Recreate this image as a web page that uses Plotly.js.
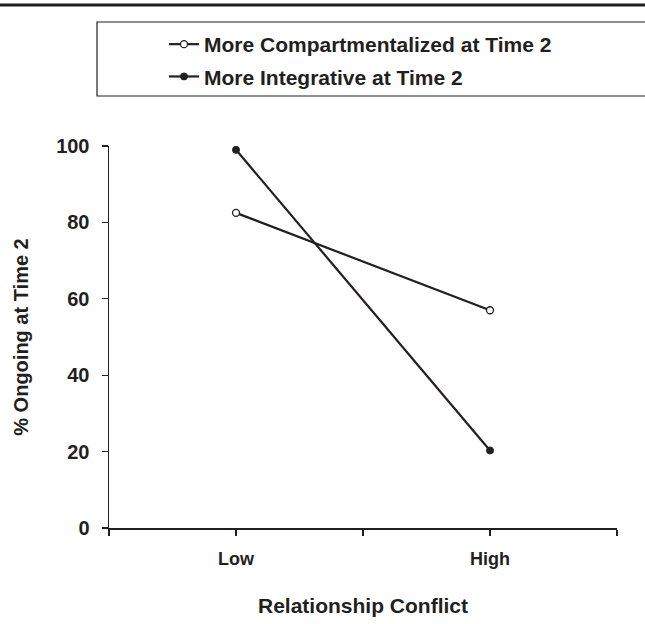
<!DOCTYPE html>
<html>
<head>
<meta charset="utf-8">
<script src="https://cdn.plot.ly/plotly-3.0.1.min.js"></script>
<style>html,body{margin:0;padding:0;background:#fff;}#chart{width:645px;height:624px;}</style>
</head>
<body>
<div id="chart"></div>
<script>
const categories = ["Low", "High"];
const categoryPositions = [1, 3];
const compartmentalized = [82.5, 57];
const integrative = [99, 20.3];
const seriesNames = ["More Compartmentalized at Time 2", "More Integrative at Time 2"];
const yTicks = [0, 20, 40, 60, 80, 100];

const font = "Arial, 'Liberation Sans', sans-serif";
const traces = [
  {
    x: categoryPositions, y: compartmentalized, name: seriesNames[0], legendgroup: "a",
    mode: "lines+markers", type: "scatter",
    line: {color: "#231f20", width: 2.2},
    marker: {symbol: "circle", size: 7, color: "#ffffff", line: {color: "#231f20", width: 1.3}}
  },
  {
    x: categoryPositions, y: integrative, name: seriesNames[1], legendgroup: "b",
    mode: "lines+markers", type: "scatter",
    line: {color: "#231f20", width: 2.2},
    marker: {symbol: "circle", size: 7, color: "#231f20", line: {color: "#231f20", width: 1}}
  }
];

const layout = {
  width: 645, height: 624,
  margin: {l: 109, r: 28, t: 146, b: 96},
  paper_bgcolor: "#fff", plot_bgcolor: "#fff",
  font: {family: font, color: "#231f20", size: 20},
  showlegend: true,
  legend: {
    x: (164-109)/508, y: 1 - 24/624, xref: "paper", yref: "container",
    xanchor: "left", yanchor: "top",
    bgcolor: "rgba(0,0,0,0)", borderwidth: 0,
    font: {family: font, size: 21, color: "#231f20", weight: "bold"},
    itemwidth: 30, tracegroupgap: 2, traceorder: "grouped"
  },
  xaxis: {
    range: [0, 4], tickvals: [0, 1, 2, 3, 4], ticktext: ["", categories[0], "", categories[1], ""],
    showgrid: false, zeroline: false, showline: true, linecolor: "#231f20", linewidth: 1.5,
    ticks: "outside", ticklen: 6, tickwidth: 1.2, tickcolor: "#231f20",
    tickfont: {family: font, size: 18, weight: "bold"}, ticklabelstandoff: 8,
    title: {text: "Relationship Conflict", font: {family: font, size: 21, weight: "bold"}, standoff: 30},
    fixedrange: true
  },
  yaxis: {
    range: [0, 100], tickvals: yTicks,
    showgrid: false, zeroline: false, showline: true, linecolor: "#231f20", linewidth: 1.5,
    ticks: "outside", ticklen: 6, tickwidth: 1.2, tickcolor: "#231f20",
    tickfont: {family: font, size: 20, weight: "bold"}, ticklabelstandoff: 8,
    title: {text: "% Ongoing at Time 2", font: {family: font, size: 20, weight: "bold"}, standoff: 22},
    fixedrange: true
  },
  shapes: [
    {type: "line", xref: "paper", yref: "paper", x0: -109/508, x1: 1.2, y0: (624-96-5)/382 , y1: (624-96-5)/382, line: {color: "#231f20", width: 3}},
    {type: "rect", xref: "paper", yref: "paper", x0: (97-109)/508, x1: 1.2, y0: (528-96)/382, y1: (528-22)/382, line: {color: "#231f20", width: 1.2}}
  ]
};
Plotly.newPlot("chart", traces, layout, {displayModeBar: false, staticPlot: true});
</script>
</body>
</html>
